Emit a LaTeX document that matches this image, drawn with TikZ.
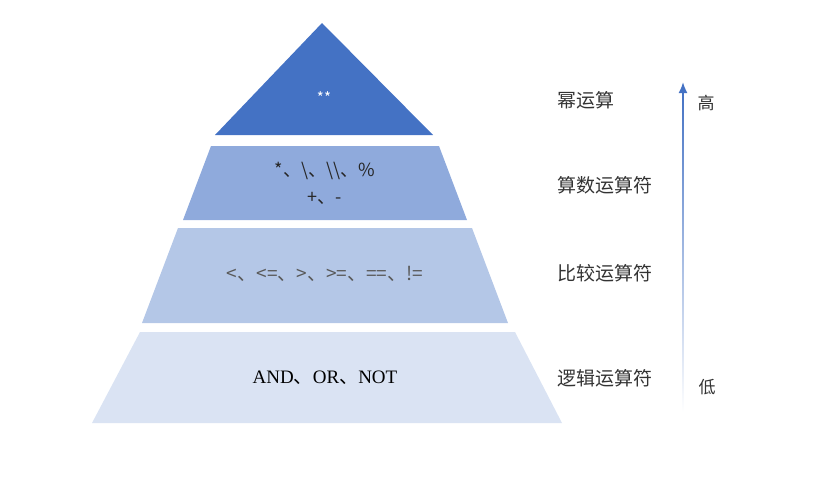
\documentclass[tikz,border=0pt]{standalone}
\usepackage{fontspec}
\setmainfont{Liberation Serif}
\newfontfamily\cjk{Noto Sans CJK SC}
\usetikzlibrary{arrows.meta}
\definecolor{lvlone}{HTML}{4472C4}
\definecolor{lvltwo}{HTML}{8FAADC}
\definecolor{lvlthree}{HTML}{B4C7E7}
\definecolor{lvlfour}{HTML}{DAE3F3}
\newcommand{\dun}{{\cjk 、}}
\begin{document}
\begin{tikzpicture}[x=1pt,y=-1pt,line join=round,>={Latex[length=11pt,width=9pt]}]
	\tikzset{lvltext/.style={font=\cjk\fontsize{18}{20}\selectfont,inner sep=0pt},
		lvllabel/.style={anchor=west,font=\cjk\fontsize{19}{21}\selectfont,text=black!80,inner sep=0pt}}
	\useasboundingbox (0,0) rectangle (824,477);
	% the four levels of the pyramid
	\fill[lvlone] (322,23)--(433,135)--(215,135)--cycle;
	\fill[lvltwo] (211,146)--(439,146)--(467,220)--(183,220)--cycle;
	\fill[lvlthree] (178,228)--(472,228)--(508,323)--(142,323)--cycle;
	\fill[lvlfour] (140,332)--(515,332)--(562,423)--(92,423)--cycle;
	\node[lvltext,text=white,font=\cjk\fontsize{15}{17}\selectfont] (pow) at (324,98) {**};
	\node[lvltext,text=black!85] (arithA) at (325,171) {*、\textbackslash、\textbackslash\textbackslash、\%};
	\node[lvltext,text=black!85] (arithB) at (325,198) {+、-};
	\node[lvltext,text=black!65,font=\cjk\fontsize{19}{21}\selectfont] (cmp) at (325,274) {<、<=、>、>=、==、!=};
	\node[inner sep=0pt,font=\fontsize{19}{21}\selectfont] (logic) at (325,378) {AND\dun OR\dun NOT};
	% names on the right
	\node[lvllabel] (powname) at (557,100) {幂运算};
	\node[lvllabel] (arithname) at (557,185) {算数运算符};
	\node[lvllabel] (cmpname) at (557,273) {比较运算符};
	\node[lvllabel] (logicname) at (557,378) {逻辑运算符};
	% priority arrow, fading out towards the bottom
	\coordinate (low) at (683,412);
	\coordinate (high) at (683,82);
	\shade[bottom color=white,top color=lvlone] ([xshift=-0.9pt]low) rectangle ([xshift=0.9pt,yshift=-8pt]high);
	\draw[->,line width=1.8pt,lvlone] ([yshift=-12pt]high)--(high);
	\node[lvllabel,anchor=center,font=\cjk\fontsize{17}{19}\selectfont] (hi) at (706,103) {高};
	\node[lvllabel,anchor=center,font=\cjk\fontsize{17}{19}\selectfont] (lo) at (707,387) {低};
\end{tikzpicture}
\end{document}
